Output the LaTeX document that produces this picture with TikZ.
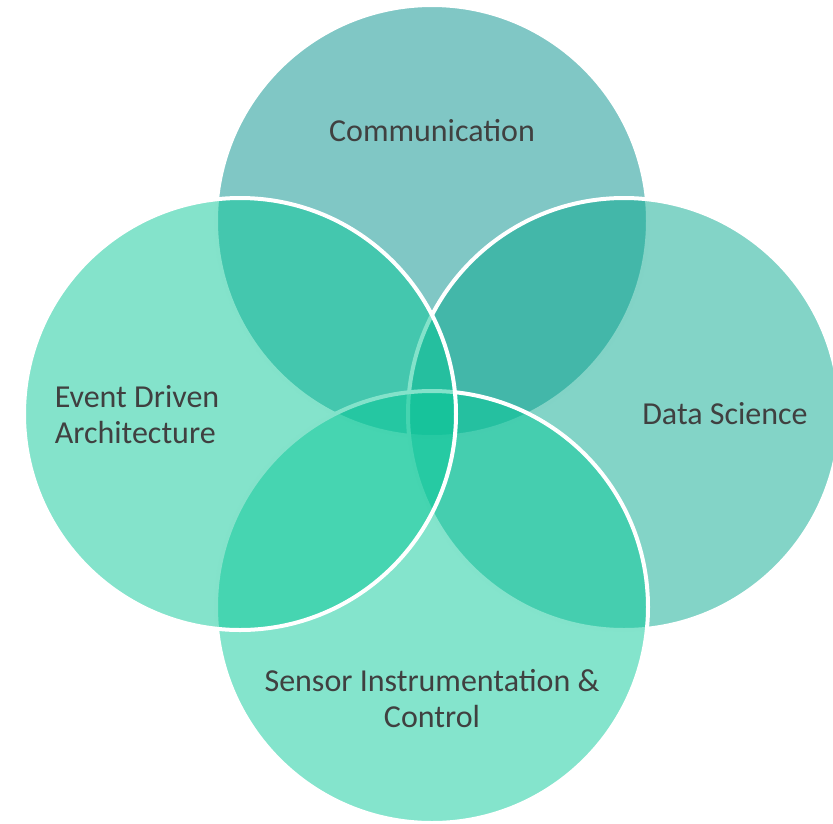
\documentclass[tikz,border=0pt]{standalone}
\usepackage{fontspec}
\setmainfont{Carlito}
\usepackage{tikz}
\usepackage{xcolor}

% Colores de los circulos
\definecolor{colorcom}{RGB}{1,143,139}
\definecolor{colordatos}{RGB}{7,169,143}
\definecolor{colorsensor}{RGB}{9,201,153}
\definecolor{coloreventos}{RGB}{9,199,151}
\definecolor{textogris}{RGB}{64,64,64}

\tikzset{
  circulo/.style={draw=white, line width=4pt, fill opacity=0.5},
  etiqueta/.style={text=textogris, font=\fontsize{32}{36}\selectfont, align=center}
}

\begin{document}
\begin{tikzpicture}[x=1pt,y=-1pt]
            \useasboundingbox (0,0) rectangle (833,823);

            % Dibuja los cuatro circulos (el orden importa)
            \draw[circulo, fill=colorcom] (432,221) circle (216pt);
            \draw[circulo, fill=colordatos] (624,414) circle (216pt);
            \draw[circulo, fill=colorsensor] (432,607) circle (216pt);
            \draw[circulo, fill=coloreventos] (240,414) circle (216pt);

            % Etiquetas
            \node[etiqueta] (com) at (432,131) {Communication};
            \node[etiqueta] (datos) at (725,414) {Data Science};
            \node[etiqueta] (sensor) at (432,699) {Sensor Instrumentation \&\\Control};
            \node[etiqueta, align=left] (eventos) at (137,415) {Event Driven\\Architecture};
        \end{tikzpicture}
\end{document}
